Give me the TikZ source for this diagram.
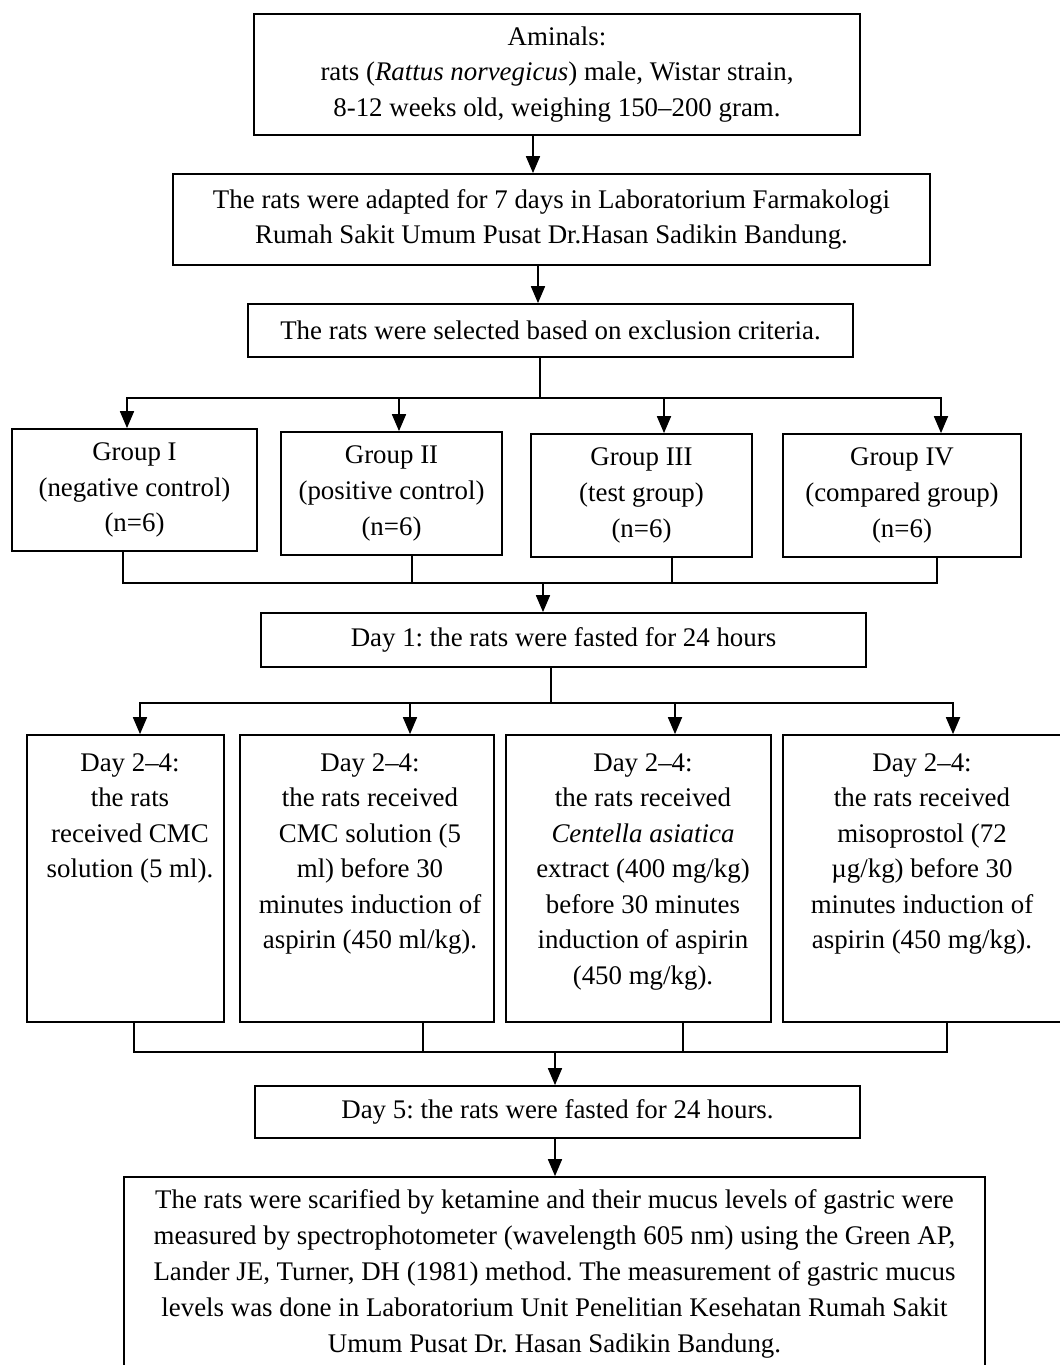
\documentclass[tikz,border=0pt]{standalone}
\usepackage{fontspec}
\setmainfont{Liberation Serif}
\frenchspacing
\usetikzlibrary{arrows.meta}
\tikzset{
  box/.style={draw, line width=1pt, inner sep=0pt, align=center,
    font=\fontsize{15.3}{20.4}\selectfont},
  txt/.style={inner sep=0pt, align=center, anchor=north,
    font=\fontsize{15.3}{20.2}\selectfont},
  link/.style={line width=1pt, line cap=rect},
  arr/.style={-{Triangle[width=0.28cm,length=0.34cm]}, line width=1pt},
}
\begin{document}
\begin{tikzpicture}[x=0.02cm, y=-0.02cm]
  \useasboundingbox (0,0) rectangle (1060,1365);
  % top of the chart
  \node[box, minimum width=12.12cm, minimum height=2.42cm] (animals) at (557,74.5)
    {Aminals:\\rats (\textit{Rattus norvegicus}) male, Wistar strain,\\8-12 weeks old, weighing 150--200 gram.};
  \node[box, minimum width=15.14cm, minimum height=1.82cm] (adapt) at (551.5,219.5)
    {The rats were adapted for 7 days in Laboratorium Farmakologi\\Rumah Sakit Umum Pusat Dr.Hasan Sadikin Bandung.};
  \node[box, minimum width=12.1cm, minimum height=1.06cm] (select) at (550.5,330.5)
    {The rats were selected based on exclusion criteria.};
  % groups
  \node[box, minimum width=4.9cm, minimum height=2.44cm] (g1) at (134.5,490)
    {Group I\\(negative control)\\(n=6)};
  \node[box, minimum width=4.42cm, minimum height=2.46cm] (g2) at (391.5,493.5)
    {Group II\\(positive control)\\(n=6)};
  \node[box, minimum width=4.42cm, minimum height=2.46cm] (g3) at (641.5,495.5)
    {Group III\\(test group)\\(n=6)};
  \node[box, minimum width=4.76cm, minimum height=2.46cm] (g4) at (902,495.5)
    {Group IV\\(compared group)\\(n=6)};
  \node[box, minimum width=12.1cm, minimum height=1.08cm] (day1) at (563.5,640)
    {Day 1: the rats were fasted for 24 hours};
  % day 2-4 boxes
  \node[box, minimum width=3.94cm, minimum height=5.74cm] (d2a) at (125.5,878.5) {};
  \node[box, minimum width=5.08cm, minimum height=5.74cm] (d2b) at (367,878.5) {};
  \node[box, minimum width=5.3cm, minimum height=5.74cm] (d2c) at (638.5,878.5) {};
  \node[box, minimum width=5.62cm, minimum height=5.74cm] (d2d) at (923.5,878.5) {};
  \node[txt] (d2atext) at (130,753)
    {Day 2--4:\\the rats\\received CMC\\solution (5 ml).};
  \node[txt] (d2btext) at (370,753)
    {Day 2--4:\\the rats received\\CMC solution (5\\ml) before 30\\minutes induction of\\aspirin (450 ml/kg).};
  \node[txt] (d2ctext) at (643,753)
    {Day 2--4:\\the rats received\\\textit{Centella asiatica}\\extract (400 mg/kg)\\before 30 minutes\\induction of aspirin\\(450 mg/kg).};
  \node[txt] (d2dtext) at (922,753)
    {Day 2--4:\\the rats received\\misoprostol (72\\µg/kg) before 30\\minutes induction of\\aspirin (450 mg/kg).};
  \node[box, minimum width=12.1cm, minimum height=1.04cm] (day5) at (557.5,1112)
    {Day 5: the rats were fasted for 24 hours.};
  \node[box, minimum width=17.22cm, minimum height=3.88cm] (final) at (554.5,1274)
    {The rats were scarified by ketamine and their mucus levels of gastric were\\
     measured by spectrophotometer (wavelength 605 nm) using the Green AP,\\
     Lander JE, Turner, DH (1981) method. The measurement of gastric mucus\\
     levels was done in Laboratorium Unit Penelitian Kesehatan Rumah Sakit\\
     Umum Pusat Dr. Hasan Sadikin Bandung.};
  % connectors
  \draw[arr] (533,0 |- animals.south) -- (533,0 |- adapt.north);
  \draw[arr] (538,0 |- adapt.south) -- (538,0 |- select.north);
  \coordinate (bar1) at (540,398);
  \draw[link] (540,0 |- select.south) -- (bar1);
  \draw[link] (127,0 |- bar1) -- (941,0 |- bar1);
  \foreach \n/\x in {g1/127, g2/399, g3/664, g4/941}
    \draw[arr] (\x,0 |- bar1) -- (\x,0 |- \n.north);
  \coordinate (bar2) at (543,583);
  \foreach \n/\x in {g1/123, g2/412, g3/672, g4/937}
    \draw[link] (\x,0 |- \n.south) -- (\x,0 |- bar2);
  \draw[link] (123,0 |- bar2) -- (937,0 |- bar2);
  \draw[arr] (bar2) -- (543,0 |- day1.north);
  \coordinate (bar3) at (551,703);
  \draw[link] (551,0 |- day1.south) -- (bar3);
  \draw[link] (140,0 |- bar3) -- (953,0 |- bar3);
  \foreach \n/\x in {d2a/140, d2b/410, d2c/675, d2d/953}
    \draw[arr] (\x,0 |- bar3) -- (\x,0 |- \n.north);
  \coordinate (bar4) at (555,1052);
  \foreach \n/\x in {d2a/134, d2b/423, d2c/683, d2d/947}
    \draw[link] (\x,0 |- \n.south) -- (\x,0 |- bar4);
  \draw[link] (134,0 |- bar4) -- (947,0 |- bar4);
  \draw[arr] (bar4) -- (555,0 |- day5.north);
  \draw[arr] (555,0 |- day5.south) -- (555,0 |- final.north);
\end{tikzpicture}
\end{document}
